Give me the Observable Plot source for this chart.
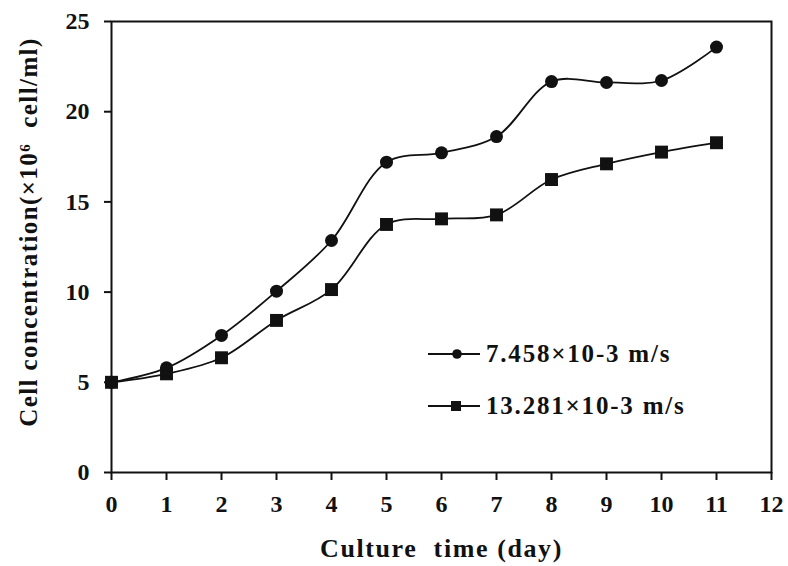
<!DOCTYPE html>
<html><head><meta charset="utf-8">
<script src="https://cdn.jsdelivr.net/npm/d3@7"></script>
<script src="https://cdn.jsdelivr.net/npm/@observablehq/plot@0.6"></script>
<style>
body{margin:0;background:#fff}
#wrap{position:relative;width:788px;height:566px}
.row{position:absolute;left:428px;height:30px;display:flex;align-items:center;white-space:nowrap;font-family:"Liberation Serif",serif;font-weight:bold;font-size:25px;letter-spacing:1.8px;color:#111}
.row svg{margin-right:6px}
svg [aria-label="x-axis label"] text{font-size:26px;letter-spacing:1.6px;white-space:pre}
</style></head>
<body><div id="wrap"></div>
<script>
const days = [0,1,2,3,4,5,6,7,8,9,10,11];
const lowVelocity = [5.0,5.8,7.6,10.05,12.86,17.2,17.72,18.62,21.67,21.62,21.73,23.58];
const highVelocity = [5.0,5.47,6.36,8.43,10.14,13.75,14.06,14.28,16.24,17.11,17.76,18.28];
const seriesNames = ["7.458×10-3 m/s","13.281×10-3 m/s"];
const seriesSymbols = ["circle","square"];
const xTicks = [0,1,2,3,4,5,6,7,8,9,10,11,12];
const yTicks = [0,5,10,15,20,25];
const xTitle = "Culture  time (day)";
const yTitle = "Cell concentration(×10⁶  cell/ml)";

const rows = [];
[lowVelocity, highVelocity].forEach((vals, s) => {
  days.forEach((d, i) => rows.push({day: d, value: vals[i], series: seriesNames[s], symbol: seriesSymbols[s]}));
});
const ink = "#111";

const chart = Plot.plot({
  width: 788, height: 566,
  marginLeft: 111, marginRight: 17, marginTop: 21, marginBottom: 94,
  style: {fontFamily: '"Liberation Serif", serif', fontWeight: "bold", fontSize: "24px", color: ink, background: "#fff"},
  x: {domain: [0, 12]},
  y: {domain: [0, 25]},
  marks: [
    Plot.axisX({ticks: xTicks, tickSize: 8, tickPadding: 14, strokeWidth: 2, fontSize: 24, label: xTitle, labelAnchor: "center", labelArrow: "none", labelOffset: 84}),
    Plot.axisY({ticks: yTicks, tickSize: 7, tickPadding: 15, strokeWidth: 2, fontSize: 24, label: null}),
    Plot.text([yTitle], {text: d => d, frameAnchor: "left", rotate: -90, dx: -83, dy: -15, fontSize: 25, textAnchor: "middle", lineAnchor: "middle"}),
    Plot.frame({stroke: ink, strokeWidth: 2}),
    Plot.line(rows, {x: "day", y: "value", z: "series", stroke: ink, strokeWidth: 1.8, curve: "catmull-rom"}),
    Plot.dot(rows.filter(r => r.symbol === "circle"), {x: "day", y: "value", symbol: "circle", fill: ink, r: 6.5}),
    Plot.dot(rows.filter(r => r.symbol === "square"), {x: "day", y: "value", symbol: "square", fill: ink, r: 7.3})
  ]
});
const svgSel = d3.select(chart);
svgSel.selectAll("text")
  .filter(function() { return this.textContent === yTitle; })
  .style("letter-spacing", "1.4px").style("white-space", "pre");
svgSel.selectAll("text")
  .filter(function() { return /^\d+$/.test(this.textContent.trim()); })
  .style("font-size", "24px").attr("font-size", 24);
const wrap = document.getElementById("wrap");
wrap.appendChild(chart);

const legendCenters = [354, 406];
seriesNames.forEach((name, s) => {
  const row = document.createElement("div");
  row.className = "row";
  row.style.top = (legendCenters[s] - 15) + "px";
  const marker = seriesSymbols[s] === "circle"
    ? `<circle cx="29" cy="9" r="4.8" fill="${ink}"/>`
    : `<rect x="23" y="4" width="10" height="10" fill="${ink}"/>`;
  row.innerHTML = `<svg width="52" height="18"><line x1="0" x2="52" y1="9" y2="9" stroke="${ink}" stroke-width="2"/>${marker}</svg><span>${name}</span>`;
  wrap.appendChild(row);
});
</script>
</body></html>
